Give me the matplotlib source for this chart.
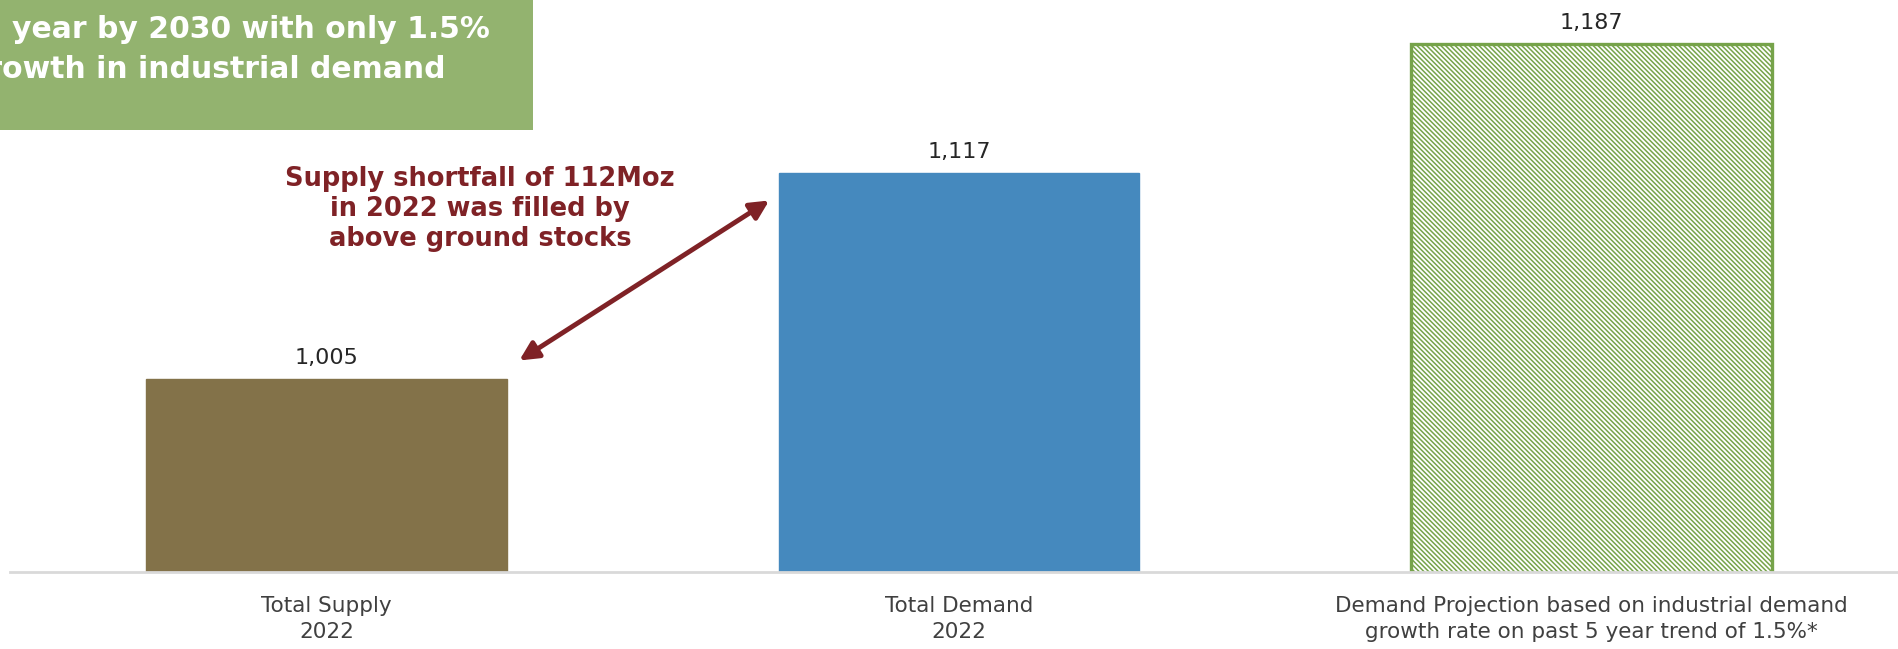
# Silver supply vs demand 2022, with 2030 demand projection
import matplotlib.pyplot as plt
from matplotlib.patches import Rectangle

categories = ["Total Supply\n2022", "Total Demand\n2022",
              "Demand Projection based on industrial demand\ngrowth rate on past 5 year trend of 1.5%*"]
values = [1005, 1117, 1187]
value_labels = ["1,005", "1,117", "1,187"]

box_lines = ["year by 2030 with only 1.5%", "growth in industrial demand"]
note = "Supply shortfall of 112Moz\nin 2022 was filled by\nabove ground stocks"

plt.rcParams['font.family'] = ['DejaVu Sans']
plt.rcParams['hatch.linewidth'] = 1.1

W, H = 1898, 649
fig = plt.figure(figsize=(W / 100, H / 100), dpi=100)
ax = fig.add_axes([10 / W, (H - 572) / H, 1.0, 572 / H])

x = range(len(values))
bars = ax.bar(x, values, width=0.57, bottom=0)
bars[0].set_color('#837249')
bars[1].set_color('#4589BE')
bars[2].set_facecolor('white')
bars[2].set_edgecolor('#76A34A')
bars[2].set_hatch('\\' * 7)
bars[2].set_linewidth(2.4)

ax.set_xlim(-0.5, 2.5)
ax.set_ylim(900, 1211)

for i, v in enumerate(values):
    ax.annotate(value_labels[i], (i, v), xytext=(0, 11), textcoords='offset pixels',
                ha='center', va='bottom', fontsize=16, color='#262626')

ax.set_xticks(list(x))
ax.set_xticklabels(categories, fontsize=15.5, color='#404040', linespacing=1.4)
ax.tick_params(axis='x', length=0, pad=17)
ax.set_yticks([])
for s in ['top', 'right', 'left']:
    ax.spines[s].set_visible(False)
ax.spines['bottom'].set_color('#D9D9D9')
ax.spines['bottom'].set_linewidth(2)
ax.patch.set_alpha(0)

# double arrow between supply and demand
ax.annotate('', xy=(0.305, values[0] + 10), xytext=(0.70, values[1] - 15),
            arrowprops=dict(arrowstyle='<|-|>', color='#7F2226', lw=3.5,
                            mutation_scale=28, shrinkA=0, shrinkB=0))

fig.text(480 / W, 1 - 209 / H, note, ha='center', va='center', fontsize=18.5,
         fontweight='bold', color='#7F2226', linespacing=1.18)

# green callout box at top left (cut off by the page edge, as in the source slide)
fig.add_artist(Rectangle((0, 1 - 130 / H), 533 / W, 130 / H + 0.01,
                         transform=fig.transFigure, facecolor='#93B36F', edgecolor='none'))
fig.text(490 / W, 1 - 30 / H, box_lines[0], ha='right', va='center', fontsize=21.5,
         fontweight='bold', color='white')
fig.text(445 / W, 1 - 70 / H, box_lines[1], ha='right', va='center', fontsize=21.5,
         fontweight='bold', color='white')

fig.savefig("out.png", dpi=100)
